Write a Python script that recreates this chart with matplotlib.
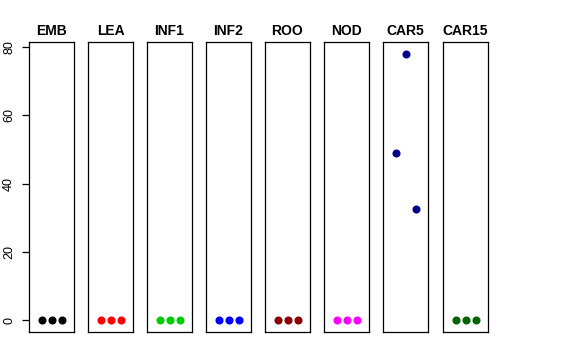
import matplotlib
matplotlib.use('Agg')
import matplotlib.pyplot as plt

plt.rcParams['font.family'] = ['Liberation Sans', 'DejaVu Sans']

groups = ['EMB', 'LEA', 'INF1', 'INF2', 'ROO', 'NOD', 'CAR5', 'CAR15']
colors = ['black', 'red', '#00CD00', 'blue', '#8B0000', 'magenta', '#00008B', '#006400']
x = [1, 2, 3]
values = {
    'EMB': [0, 0, 0],
    'LEA': [0, 0, 0],
    'INF1': [0, 0, 0],
    'INF2': [0, 0, 0],
    'ROO': [0, 0, 0],
    'NOD': [0, 0, 0],
    'CAR5': [49, 78, 32.5],
    'CAR15': [0, 0, 0],
}
yticks = [0, 20, 40, 60, 80]

W, H = 576, 360
fig = plt.figure(figsize=(W / 100, H / 100), dpi=100)

lefts = [29, 88, 147, 206, 265, 324, 383, 443]
top, bottom, width = 42, 332, 45

for i, g in enumerate(groups):
    ax = fig.add_axes([lefts[i] / W, 1 - bottom / H, width / W, (bottom - top) / H])
    ax.plot(x, values[g], 'o', color=colors[i], markersize=4.8)
    ax.set_xlim(-0.25, 4.25)
    ax.set_ylim(-3.5, 81.5)
    ax.set_xticks([])
    ax.set_title(g, fontsize=10, fontweight='bold', pad=5)
    for s in ax.spines.values():
        s.set_linewidth(0.9)
    if i == 0:
        ax.set_yticks(yticks)
        ax.set_yticklabels([str(v) for v in yticks], rotation=90, va='center', fontsize=9)
        ax.tick_params(axis='y', length=5, width=0.9, pad=5)
    else:
        ax.set_yticks([])

fig.savefig('out.png', dpi=100)
